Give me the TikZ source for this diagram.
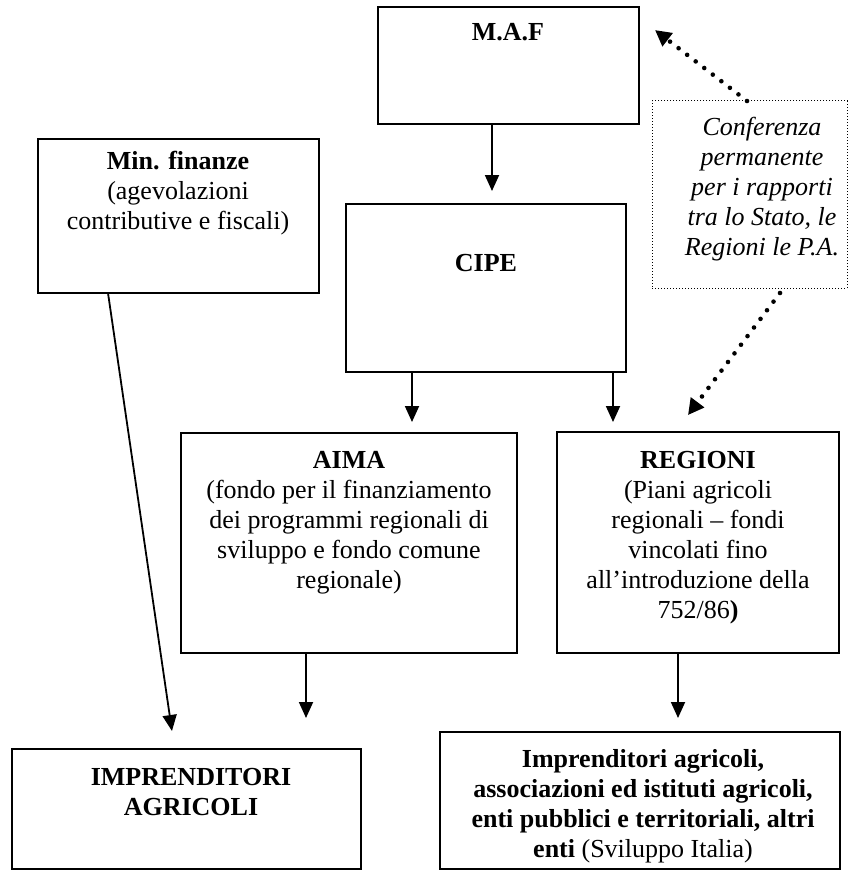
\documentclass[tikz,border=0pt]{standalone}
\usepackage{fontspec}
\setmainfont{Liberation Serif}
\usetikzlibrary{arrows.meta,fit}
\begin{document}
\begin{tikzpicture}[x=0.5pt,y=-0.5pt,
  box/.style={draw, line width=0.9pt, inner sep=0pt, outer sep=0pt},
  dotbox/.style={draw, line width=0.5pt, densely dotted, inner sep=0pt, outer sep=0pt},
  txt/.style={align=center, inner sep=0pt, font=\fontsize{13}{15}\selectfont},
  arr/.style={line width=0.9pt, -{Triangle[length=8pt,width=7pt]}},
  dotarr/.style={line width=2.3pt, line cap=round, dash pattern=on 0pt off 5.4pt, -{Triangle[length=8pt,width=8pt]}},
]
\useasboundingbox (0,0) rectangle (848,872);

% boxes
\node[box, fit={(378,7) (639,124)}] (maf) {};
\node[box, fit={(346,204) (626,372)}] (cipe) {};
\node[box, fit={(38,139) (319,293)}] (minfin) {};
\node[dotbox, fit={(652,101) (847,288)}] (conf) {};
\node[box, fit={(181,433) (517,653)}] (aima) {};
\node[box, fit={(557,432) (839,653)}] (regioni) {};
\node[box, fit={(12,749) (361,869)}] (impr) {};
\node[box, fit={(440,732) (840,869)}] (enti) {};

% texts
\node[txt] (maft) at (508,32) {\textbf{M.A.F}};
\node[txt] (cipet) at (486,263) {\textbf{CIPE}};
\node[txt] (mint) at (178,193) {\textbf{Min. finanze}\\(agevolazioni\\contributive e fiscali)};
\node[txt, font=\fontsize{13}{15}\selectfont\itshape] (conft) at (762,189) {Conferenza\\permanente\\per i rapporti\\tra lo Stato, le\\Regioni le P.A.};
\node[txt] (aimat) at (349,523) {\textbf{AIMA}\\(fondo per il finanziamento\\dei programmi regionali di\\sviluppo e fondo comune\\regionale)};
\node[txt] (regt) at (698,538) {\textbf{REGIONI}\\(Piani agricoli\\regionali – fondi\\vincolati fino\\all’introduzione della\\752/86\textbf{)}};
\node[txt, font=\fontsize{13}{15}\selectfont\bfseries] (imprt) at (191,792) {IMPRENDITORI\\AGRICOLI};
\node[txt] (entit) at (643,806) {\textbf{Imprenditori agricoli,}\\\textbf{associazioni ed istituti agricoli,}\\\textbf{enti pubblici e territoriali, altri}\\\textbf{enti} (Sviluppo Italia)};

% connectors
\draw[arr, shorten >=6.5pt] ([xshift=-8.25pt]maf.south) -- ([xshift=3pt]cipe.north);
\draw[arr, shorten >=5.5pt] ([xshift=-37pt]cipe.south) -- ([xshift=31.5pt]aima.north);
\draw[arr, shorten >=5pt] ([xshift=63.5pt]cipe.south) -- ([xshift=-42.5pt]regioni.north);
\draw[arr, shorten >=15.5pt] ([xshift=-21.5pt]aima.south) -- ([xshift=59.75pt]impr.north);
\draw[arr, shorten >=7pt] ([xshift=-10pt]regioni.south) -- ([xshift=19pt]enti.north);
\draw[arr, shorten >=9.1pt] ([xshift=-35.25pt]minfin.south) -- ([xshift=-5.95pt]impr.north);

\draw[dotarr, shorten >=10.1pt] ([xshift=-1.25pt]conf.north) -- ([yshift=-5.35pt]maf.north east);
\draw[dotarr, shorten >=10.6pt] ([xshift=15.25pt,yshift=-2.5pt]conf.south) -- ([xshift=-11.4pt]regioni.north);
\end{tikzpicture}
\end{document}
